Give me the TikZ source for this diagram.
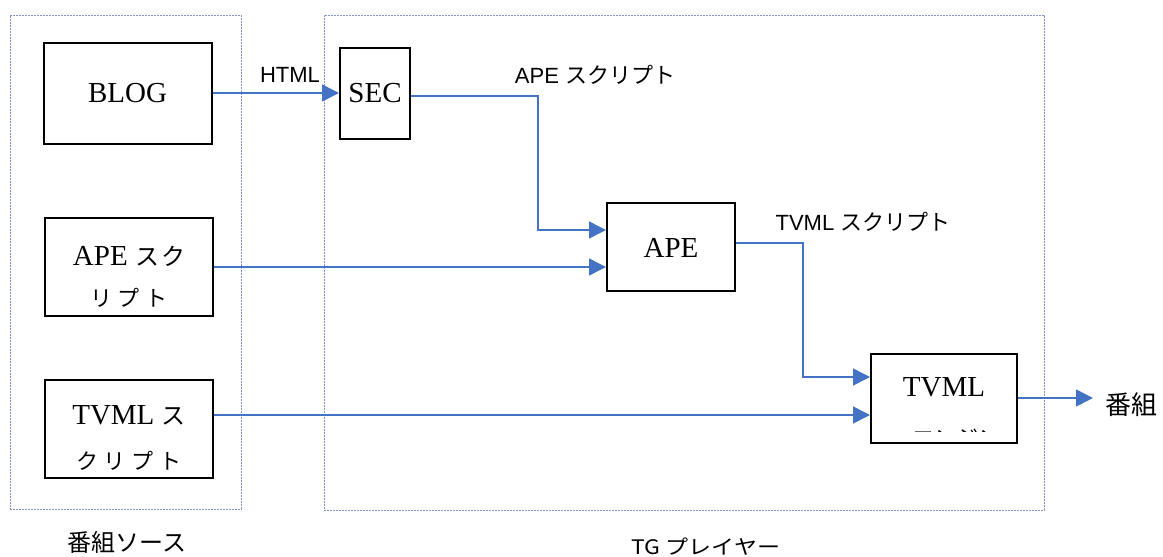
\documentclass[tikz,border=0pt]{standalone}
\usepackage{fontspec}
\setmainfont{Liberation Serif}
\newfontfamily\jp{Noto Sans CJK JP}
\newfontfamily\lsans{Liberation Sans}
\usetikzlibrary{arrows.meta}
\definecolor{conn}{HTML}{4472C4}
\definecolor{framec}{HTML}{8096C8}
\tikzset{
  blk/.style={draw=black, line width=2pt, fill=white, inner sep=0pt},
  frm/.style={draw=framec, line width=0.8pt, dash pattern=on 1.6pt off 1.4pt, inner sep=0pt},
  btxt/.style={inner sep=0pt, font=\fontsize{29}{30}\selectfont},
  jtxt/.style={inner sep=0pt, font=\fontsize{22}{24}\selectfont\jp},
  lbl/.style={inner sep=0pt, font=\fontsize{22}{24}\selectfont\lsans},
  captxt/.style={inner sep=0pt, font=\fontsize{24}{26}\selectfont\jp},
  cn/.style={draw=conn, line width=1.5pt, -{Triangle[length=17pt,width=17pt]}},
}
\begin{document}
\begin{tikzpicture}[x=1pt,y=-1pt]
\useasboundingbox (0,0) rectangle (1163,557);
% frames
\node[frm, minimum width=231pt, minimum height=494pt] (srcf) at (125.5,262) {};
\node[frm, minimum width=720pt, minimum height=495pt] (tgf) at (684,262.5) {};
% boxes
\node[blk, minimum width=168pt, minimum height=101pt] (blog) at (127.5,93) {};
\node[btxt] at (127.5,93) {BLOG};
\node[blk, minimum width=70pt, minimum height=91pt] (sec) at (375,93) {};
\node[btxt] at (375,93) {SEC};
\node[blk, minimum width=168pt, minimum height=98pt] (apes) at (129,267) {};
\node[btxt] (apes1) at (129,256) {APE {\jp\fontsize{24}{26}\selectfont ス\hspace{2pt}ク}};
\node[jtxt] (apes2) at (129,298) {リ\hspace{6pt}プ\hspace{6pt}ト};
\node[blk, minimum width=168pt, minimum height=98pt] (tvmls) at (129,428.5) {};
\node[btxt] (tvmls1) at (129,415) {TVML {\jp\fontsize{24}{26}\selectfont ス}};
\node[jtxt] (tvmls2) at (129,461) {ク\hspace{6pt}リ\hspace{6pt}プ\hspace{6pt}ト};
\node[blk, minimum width=128pt, minimum height=88pt] (ape) at (671,247) {};
\node[btxt] at (671,248) {APE};
\node[blk, minimum width=146pt, minimum height=89pt] (tvml) at (944,398) {};
\node[btxt] at (944,387) {TVML};
\begin{scope}
  \clip (876,424) rectangle (1012,431.5);
  \node[jtxt] (eng) at (956,438) {エンジン};
\end{scope}
% connectors
\draw[cn] (blog.east) -- (sec.west);
\node[lbl] (lhtml) at (290,75) {HTML};
\draw[cn] ([yshift=-3pt]sec.east) -- ++(127,0) |- ([yshift=17pt]ape.west);
\node[lbl] (lapes) at (595,75) {APE {\jp スクリプト}};
\draw[cn] (apes.east) -- (apes.east -| ape.west);
\draw[cn] ([yshift=4pt]ape.east) -- ++(67,0) |- ([yshift=21pt]tvml.west);
\node[lbl] (ltvmls) at (863,222) {TVML {\jp スクリプト}};
\coordinate (tvin) at ([yshift=-17pt]tvml.west);
\draw[cn] (tvmls.east |- tvin) -- (tvin);
\coordinate (outp) at (1093,398);
\draw[cn] (tvml.east) -- (outp);
\node[captxt, font=\fontsize{26}{28}\selectfont\jp] (prog) at (1131,405) {番組};
% captions
\node[captxt] (csrc) at (127,542) {番組ソース};
\node[captxt, font=\fontsize{20}{22}\selectfont\jp, xscale=1.15] (ctg) at (706,547) {TG プレイヤー};
\end{tikzpicture}
\end{document}
